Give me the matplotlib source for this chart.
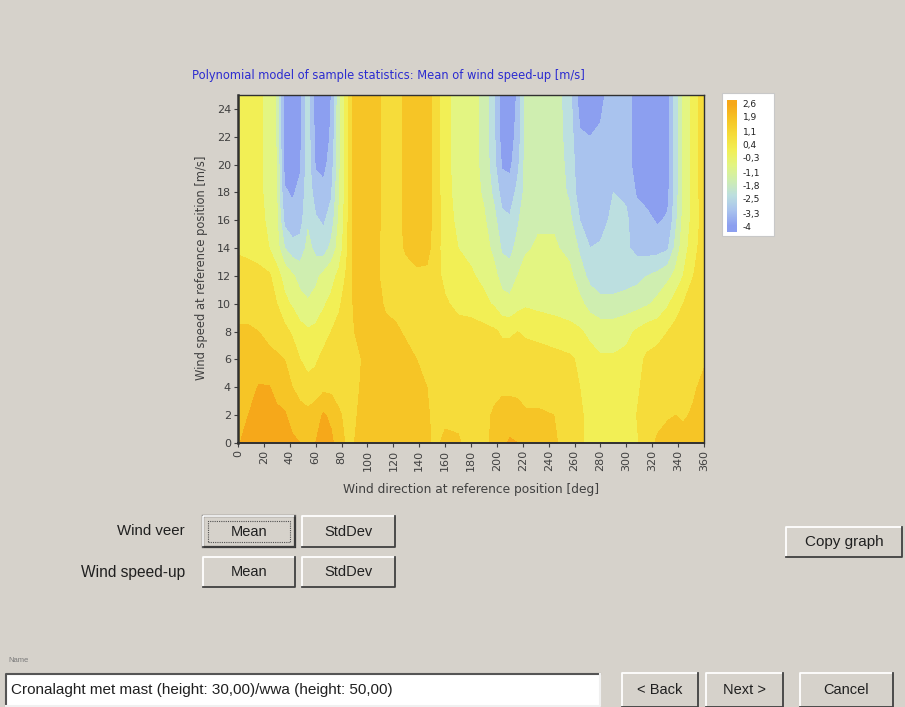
import matplotlib.pyplot as plt
import numpy as np
from matplotlib.colors import LinearSegmentedColormap
from matplotlib.patches import Rectangle
from matplotlib.lines import Line2D

W, H = 905, 707
BG = "#d6d2cb"

plt.rcParams['font.family'] = ['DejaVu Sans']
UI_FONT = ['Liberation Sans', 'DejaVu Sans']

# wind direction grid [deg] and wind speed grid [m/s]
directions = [0, 8, 16, 24, 30, 36, 42, 48, 54, 60, 66, 72, 78, 84, 90, 98, 106, 114, 122, 130,
              138, 146, 152, 160, 170, 180, 190, 198, 204, 210, 216, 222, 232, 244, 256, 264,
              272, 280, 290, 300, 308, 316, 324, 332, 338, 344, 352, 360]
speeds = [0, 2, 4, 6, 8, 10, 12, 14, 16, 18, 20, 22, 25]

# mean wind speed-up [m/s], one row per wind speed
row_00 = [1.8, 2.3, 2.4, 2.4, 2.3, 2.3, 2.1, 1.9, 1.5, 1.9, 2.3, 2.1, 1.4, 1.0, 1.1, 1.5, 1.6, 1.6, 1.6, 1.5,
          1.5, 1.3, 0.9, 1.3, 1.2, 0.8, 0.9, 1.3, 1.7, 2.0, 1.9, 1.6, 1.5, 1.2, 0.8, 0.5, 0.2, 0.0, 0.0, 0.1,
          0.3, 0.8, 1.2, 1.5, 1.6, 1.4, 1.3, 1.5]
row_02 = [1.5, 1.9, 2.1, 2.2, 2.1, 2.0, 1.5, 1.4, 1.3, 1.5, 2.0, 1.7, 1.2, 0.9, 1.0, 1.4, 1.5, 1.5, 1.5, 1.5,
          1.4, 1.2, 0.9, 0.9, 0.9, 0.8, 0.9, 1.2, 1.5, 1.5, 1.4, 1.2, 1.2, 1.1, 0.8, 0.5, 0.2, 0.0, 0.0, 0.1,
          0.4, 0.7, 0.9, 1.0, 1.1, 1.0, 1.2, 1.5]
row_04 = [1.5, 1.6, 1.95, 1.95, 1.6, 1.4, 1.1, 0.8, 0.6, 0.7, 0.9, 0.9, 0.8, 0.8, 0.9, 1.3, 1.5, 1.5, 1.5, 1.4,
          1.3, 1.1, 0.9, 0.8, 0.8, 0.8, 0.8, 0.9, 0.9, 0.9, 0.9, 0.8, 0.8, 0.8, 0.7, 0.4, 0.1, 0.0, -0.1, 0.0,
          0.3, 0.6, 0.7, 0.8, 0.8, 0.8, 1.0, 1.3]
row_06 = [1.5, 1.5, 1.4, 1.3, 1.2, 1.1, 0.8, 0.4, 0.2, 0.3, 0.6, 0.7, 0.7, 0.8, 0.9, 1.2, 1.4, 1.4, 1.4, 1.3,
          1.1, 0.9, 0.8, 0.8, 0.8, 0.8, 0.8, 0.7, 0.7, 0.7, 0.7, 0.7, 0.7, 0.6, 0.5, 0.3, 0.0, -0.2, -0.2, -0.1,
          0.2, 0.5, 0.6, 0.7, 0.8, 0.8, 0.9, 1.0]
row_08 = [1.2, 1.2, 1.1, 0.9, 0.8, 0.6, 0.3, 0.0, -0.2, -0.1, 0.1, 0.4, 0.6, 0.8, 1.1, 1.4, 1.4, 1.3, 1.2, 1.0,
          0.9, 0.8, 0.8, 0.8, 0.7, 0.7, 0.6, 0.5, 0.3, 0.3, 0.4, 0.3, 0.2, 0.1, 0.0, -0.2, -0.5, -0.7, -0.7, -0.5,
          -0.2, 0.1, 0.2, 0.4, 0.6, 0.7, 0.8, 0.9]
row_10 = [0.8, 0.8, 0.7, 0.6, 0.4, -0.1, -0.4, -0.8, -1.0, -0.8, -0.4, -0.1, 0.3, 0.7, 1.2, 1.5, 1.4, 1.0, 0.9, 0.8,
          0.8, 0.8, 0.7, 0.5, 0.2, 0.1, -0.1, -0.4, -0.8, -0.9, -0.6, -0.4, -0.5, -0.6, -0.8, -0.9, -1.4, -1.6, -1.6, -1.5,
          -1.4, -1.2, -0.9, -0.4, 0.1, 0.4, 0.7, 0.8]
row_12 = [0.7, 0.7, 0.6, 0.5, 0.0, -0.6, -1.0, -1.4, -1.6, -1.3, -0.9, -0.6, -0.1, 0.5, 1.3, 1.5, 1.3, 0.8, 0.8, 0.8,
          0.9, 0.9, 0.7, 0.2, 0.0, -0.2, -0.5, -0.9, -1.4, -1.5, -1.1, -0.8, -0.7, -0.7, -0.9, -1.5, -2.0, -2.2, -2.2, -2.1,
          -2.0, -1.8, -1.6, -1.3, -0.9, -0.3, 0.4, 0.8]
row_14 = [0.3, 0.2, 0.1, -0.3, -0.8, -1.8, -2.2, -2.2, -1.6, -2.0, -2.2, -1.6, -0.8, 0.3, 1.4, 1.6, 1.3, 0.8, 0.8, 1.2,
          1.5, 1.4, 0.7, 0.1, -0.3, -0.5, -0.8, -1.3, -1.9, -2.0, -1.6, -1.2, -1.0, -1.0, -1.3, -1.9, -2.5, -2.4, -2.3, -2.4,
          -2.7, -2.8, -2.8, -2.6, -1.6, -0.7, 0.2, 0.7]
row_16 = [0.1, 0.0, 0.0, -0.5, -1.0, -2.7, -3.0, -2.8, -1.9, -2.4, -2.6, -2.2, -1.0, 0.2, 1.4, 1.6, 1.4, 0.8, 0.8, 1.3,
          1.6, 1.5, 0.8, 0.1, -0.5, -0.7, -1.0, -1.6, -2.3, -2.4, -1.9, -1.4, -1.2, -1.2, -1.6, -2.5, -2.9, -2.8, -2.3, -2.4,
          -2.9, -3.1, -3.4, -3.2, -2.0, -0.9, 0.0, 0.7]
row_18 = [0.0, 0.0, -0.1, -0.6, -1.1, -3.2, -3.4, -3.1, -2.0, -2.9, -3.0, -2.6, -1.2, 0.1, 1.4, 1.6, 1.4, 0.8, 0.8, 1.3,
          1.6, 1.5, 0.8, 0.0, -0.6, -0.8, -1.2, -2.0, -2.8, -2.9, -2.3, -1.6, -1.4, -1.4, -1.9, -2.9, -3.0, -2.9, -2.5, -2.6,
          -3.4, -3.6, -3.7, -3.5, -2.2, -1.0, 0.0, 0.8]
row_20 = [0.0, 0.0, -0.1, -0.6, -1.1, -3.6, -3.7, -3.4, -2.1, -3.4, -3.6, -2.9, -1.3, 0.1, 1.4, 1.6, 1.4, 0.8, 0.8, 1.3,
          1.6, 1.5, 0.8, 0.0, -0.7, -0.8, -1.3, -2.3, -3.4, -3.5, -2.7, -1.6, -1.4, -1.4, -2.0, -3.0, -3.1, -3.0, -2.8, -3.0,
          -3.6, -3.8, -3.8, -3.6, -2.2, -1.0, 0.0, 0.8]
row_22 = [0.0, 0.0, -0.1, -0.6, -1.2, -3.7, -3.8, -3.5, -2.1, -3.6, -3.7, -3.2, -1.3, 0.1, 1.4, 1.6, 1.4, 0.8, 0.8, 1.3,
          1.6, 1.5, 0.8, 0.0, -0.7, -0.8, -1.3, -2.4, -3.7, -3.7, -3.0, -1.6, -1.4, -1.4, -2.1, -3.2, -3.3, -3.2, -2.9, -3.0,
          -3.6, -3.8, -3.8, -3.6, -2.2, -1.0, 0.0, 0.8]
row_25 = [0.0, 0.0, -0.1, -0.6, -1.2, -3.8, -3.8, -3.5, -2.1, -3.7, -3.8, -3.3, -1.3, 0.1, 1.4, 1.6, 1.4, 0.8, 0.8, 1.3,
          1.6, 1.5, 0.8, 0.0, -0.7, -0.8, -1.3, -2.5, -3.8, -3.8, -3.2, -1.6, -1.4, -1.4, -2.2, -3.7, -3.8, -3.5, -2.9, -3.0,
          -3.6, -3.8, -3.8, -3.6, -2.2, -1.0, 0.0, 0.8]

levels = [-4.0, -3.3, -2.5, -1.8, -1.1, -0.3, 0.4, 1.1, 1.9, 2.6]
level_labels = ["-4", "-3,3", "-2,5", "-1,8", "-1,1", "-0,3", "0,4", "1,1", "1,9", "2,6"]
level_colors = ["#8c9ff0", "#a9c3ee", "#bcdfe0", "#cfeeb0", "#e3f582", "#f2ef55",
                "#f6dc3a", "#f6c526", "#f6a81a"]

x_ticks = list(range(0, 361, 20))
y_ticks = list(range(0, 25, 2))


def fx(x):
    return x / W


def fy(y):
    return 1 - y / H


def box(x0, y0, x1, y1, face, light, dark, lw=1.0):
    fig.add_artist(Rectangle((fx(x0), fy(y1)), fx(x1) - fx(x0), fy(y0) - fy(y1),
                             transform=fig.transFigure, facecolor=face, edgecolor='none'))
    fig.add_artist(Line2D([fx(x0), fx(x0), fx(x1)], [fy(y1), fy(y0), fy(y0)],
                          color=light, lw=lw, transform=fig.transFigure))
    fig.add_artist(Line2D([fx(x0), fx(x1), fx(x1)], [fy(y1), fy(y1), fy(y0)],
                          color=dark, lw=lw, transform=fig.transFigure))


def button(x0, y0, x1, y1, label, size=10.5, pressed=False):
    box(x0, y0, x1, y1, BG, 'white', '#404040', lw=1.3)
    if pressed:
        fig.add_artist(Rectangle((fx(x0), fy(y1)), fx(x1) - fx(x0), fy(y0) - fy(y1),
                                 transform=fig.transFigure, facecolor='none',
                                 edgecolor='#202020', lw=1.6))
        fig.add_artist(Rectangle((fx(x0 + 5), fy(y1 - 5)), fx(x1 - 5) - fx(x0 + 5),
                                 fy(y0 + 5) - fy(y1 - 5), transform=fig.transFigure,
                                 facecolor='none', edgecolor='#505050', lw=0.8, ls=(0, (1, 1))))
    fig.text(fx((x0 + x1) / 2), fy((y0 + y1) / 2), label, ha='center', va='center',
             fontsize=size, color='#202020', family=UI_FONT)


fig = plt.figure(figsize=(W / 100, H / 100), dpi=100, facecolor=BG)

# contour plot
ax = fig.add_axes([fx(238), fy(443), fx(704) - fx(238), fy(95) - fy(443)])
Z = np.array([row_00, row_02, row_04, row_06, row_08, row_10, row_12,
              row_14, row_16, row_18, row_20, row_22, row_25])
ax.contourf(directions, speeds, Z, levels=levels, colors=level_colors)
ax.set_xlim(0, 360)
ax.set_ylim(0, 25)
ax.set_xticks(x_ticks)
ax.set_yticks(y_ticks)
ax.tick_params(axis='x', labelrotation=90, labelsize=8, length=3, pad=2, colors='#404040')
ax.tick_params(axis='y', labelsize=8, length=3, pad=2, colors='#404040')
for side in ['top', 'right', 'bottom', 'left']:
    ax.spines[side].set_color('#303030')
    ax.spines[side].set_linewidth(1.0)
ax.spines['left'].set_linewidth(1.8)
ax.spines['bottom'].set_linewidth(1.4)

fig.text(fx(192), fy(75), "Polynomial model of sample statistics: Mean of wind speed-up [m/s]",
         ha='left', va='center', fontsize=8.3, color='#2c2cd0')
fig.text(fx(471), fy(489), "Wind direction at reference position [deg]",
         ha='center', va='center', fontsize=8.8, color='#404040')
fig.text(fx(201), fy(268), "Wind speed at reference position [m/s]", rotation=90,
         ha='center', va='center', fontsize=8.3, color='#404040')

# colour legend
fig.add_artist(Rectangle((fx(722), fy(236)), fx(774) - fx(722), fy(93) - fy(236),
                         transform=fig.transFigure, facecolor='white', edgecolor='#c8c8c8',
                         lw=0.8, zorder=-1))
cax = fig.add_axes([fx(727), fy(232), fx(737) - fx(727), fy(100) - fy(232)])
smooth = LinearSegmentedColormap.from_list('speedup', level_colors)
grad = np.linspace(-4.3, 2.8, 200)
cax.imshow(grad[:, None], aspect='auto', cmap=smooth, origin='lower',
           extent=[0, 1, -4.3, 2.8], vmin=-4.0, vmax=2.6)
cax.set_xticks([])
cax.set_yticks(levels)
cax.set_yticklabels(level_labels)
cax.yaxis.tick_right()
cax.tick_params(axis='y', length=0, pad=4, labelsize=6.5, colors='#202020')
for s in cax.spines.values():
    s.set_visible(False)

# dialog controls
fig.text(fx(185), fy(531), "Wind veer", ha='right', va='center', fontsize=10.8,
         color='#202020', family=UI_FONT)
fig.text(fx(185), fy(572), "Wind speed-up", ha='right', va='center', fontsize=11.2,
         color='#202020', family=UI_FONT)
button(203, 516, 295, 547, "Mean", pressed=True)
button(302, 516, 395, 547, "StdDev")
button(203, 557, 295, 587, "Mean")
button(302, 557, 395, 587, "StdDev")
button(786, 527, 902, 557, "Copy graph", size=11)

fig.text(fx(8), fy(661), "Name", ha='left', va='center', fontsize=5.5, color='#7a7a7a',
         family=UI_FONT)
box(6, 674, 600, 706, 'white', '#555555', '#f0f0f0', lw=1.5)
fig.text(fx(11), fy(690), "Cronalaght met mast (height: 30,00)/wwa (height: 50,00)",
         ha='left', va='center', fontsize=11, color='#202020', family=UI_FONT)
button(622, 673, 698, 707, "< Back")
button(706, 673, 783, 707, "Next >")
button(800, 673, 893, 707, "Cancel")

fig.savefig("out.png", dpi=100, facecolor=BG)
